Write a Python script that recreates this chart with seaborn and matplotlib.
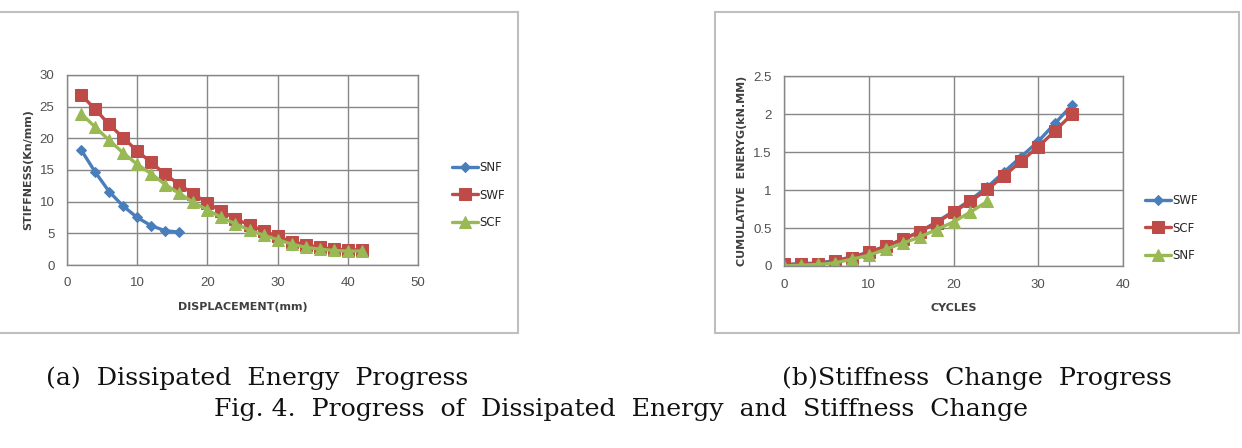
import pandas as pd
import matplotlib
matplotlib.use('Agg')
import matplotlib.pyplot as plt
import matplotlib.patches as mpatches
import seaborn as sns
import numpy as np

# ── Data ──────────────────────────────────────────────────────────────────────
# (a) stiffness vs displacement
disp_snf = [2, 4, 6, 8, 10, 12, 14, 16]
stiff_snf = [18.2, 14.7, 11.6, 9.3, 7.5, 6.2, 5.4, 5.2]
disp_long = [2, 4, 6, 8, 10, 12, 14, 16, 18, 20, 22, 24, 26, 28, 30, 32, 34, 36, 38, 40, 42]
stiff_swf = [26.9, 24.6, 22.2, 20.1, 18.0, 16.2, 14.3, 12.7, 11.2, 9.8, 8.5,
             7.3, 6.3, 5.4, 4.5, 3.7, 3.2, 2.8, 2.5, 2.4, 2.4]
stiff_scf = [23.9, 21.8, 19.7, 17.7, 15.9, 14.4, 12.7, 11.3, 9.9, 8.7, 7.5,
             6.5, 5.5, 4.7, 4.0, 3.3, 2.8, 2.5, 2.3, 2.2, 2.2]

# (b) cumulative energy vs cycles
cyc_long = [0, 2, 4, 6, 8, 10, 12, 14, 16, 18, 20, 22, 24, 26, 28, 30, 32, 34]
energy_swf = [0.02, 0.03, 0.04, 0.07, 0.12, 0.18, 0.26, 0.35, 0.45, 0.58, 0.72,
              0.87, 1.04, 1.24, 1.44, 1.64, 1.88, 2.12]
energy_scf = [0.02, 0.02, 0.03, 0.06, 0.11, 0.18, 0.26, 0.35, 0.45, 0.57, 0.71,
              0.85, 1.01, 1.19, 1.38, 1.57, 1.78, 2.00]
cyc_snf = [0, 2, 4, 6, 8, 10, 12, 14, 16, 18, 20, 22, 24]
energy_snf = [0.0, 0.01, 0.02, 0.04, 0.09, 0.14, 0.22, 0.30, 0.38, 0.48, 0.58, 0.71, 0.85]

# Excel-style series formats (1st, 2nd, 3rd series)
FMT = [('#4A7EBB', 'D', 5.5), ('#BE4B48', 's', 8), ('#98B954', '^', 8)]

sns.set_style('white')
plt.rcParams['font.family'] = ['Liberation Sans Narrow', 'DejaVu Sans']

W, H = 1242, 448
fig = plt.figure(figsize=(W / 100, H / 100), dpi=100)

# panel frames
for x0, x1 in [(-3, 518), (715, 1239)]:
    fig.patches.append(mpatches.Rectangle((x0 / W, 1 - 333 / H), (x1 - x0) / W, 321 / H,
                                          transform=fig.transFigure, fill=False,
                                          edgecolor='#BFBFBF', linewidth=1.5))

ax1 = fig.add_axes([67 / W, 1 - 265 / H, 351 / W, 190 / H])
ax2 = fig.add_axes([784 / W, 1 - 266 / H, 339 / W, 190 / H])


def draw(ax, x, y, name, k):
    color, marker, ms = FMT[k]
    sns.lineplot(x=x, y=y, ax=ax, color=color, marker=marker, markersize=ms,
                 markeredgecolor=color, linewidth=2.4, label=name)


draw(ax1, disp_snf, stiff_snf, 'SNF', 0)
draw(ax1, disp_long, stiff_swf, 'SWF', 1)
draw(ax1, disp_long, stiff_scf, 'SCF', 2)

draw(ax2, cyc_long, energy_swf, 'SWF', 0)
draw(ax2, cyc_long, energy_scf, 'SCF', 1)
draw(ax2, cyc_snf, energy_snf, 'SNF', 2)

lab = dict(fontsize=8, fontweight='bold', color='#404040')
ax1.set_xlim(0, 50)
ax1.set_ylim(0, 30)
ax1.set_xticks(range(0, 51, 10))
ax1.set_yticks(range(0, 31, 5))
ax1.set_xlabel('DISPLACEMENT(mm)', **lab)
ax1.set_ylabel('STIFFNESS(Kn/mm)', **lab)
ax1.xaxis.set_label_coords(0.5, (265 - 302) / 190)
ax1.yaxis.set_label_coords((33 - 67) / 351, 0.5)

ax2.set_xlim(0, 40)
ax2.set_ylim(0, 2.5)
ax2.set_xticks(range(0, 41, 10))
ax2.set_yticks([0, 0.5, 1, 1.5, 2, 2.5])
ax2.set_yticklabels(['0', '0.5', '1', '1.5', '2', '2.5'])
ax2.set_xlabel('CYCLES', **lab)
ax2.set_ylabel('CUMULATIVE  ENERYG(kN.MM)', **lab)
ax2.xaxis.set_label_coords(0.5, (266 - 303) / 190)
ax2.yaxis.set_label_coords((747 - 784) / 339, 0.5)

for ax in (ax1, ax2):
    ax.grid(True, color='#878787', linewidth=1)
    ax.set_axisbelow(True)
    for s in ax.spines.values():
        s.set_color('#878787')
        s.set_linewidth(1)
    ax.tick_params(length=0, labelsize=9.5, labelcolor='#505050', pad=9)
    for t in ax.get_xticklabels() + ax.get_yticklabels():
        t.set_family(['Liberation Sans', 'DejaVu Sans'])

leg = dict(bbox_transform=fig.transFigure, frameon=False, fontsize=8.5, loc='center left',
           handlelength=2.2, handletextpad=0.1, labelspacing=1.2, borderpad=0)
ax1.legend(bbox_to_anchor=(446 / W, 1 - 195 / H), **leg)
ax2.legend(bbox_to_anchor=(1139 / W, 1 - 228 / H), **leg)

# captions
cap = dict(family=['DejaVu Serif'], fontsize=18.2, color='#111111',
           va='center', transform=fig.transFigure)
fig.text(46 / W, 1 - 378 / H, '(a)  Dissipated  Energy  Progress', ha='left', **cap)
fig.text(1172 / W, 1 - 378 / H, '(b)Stiffness  Change  Progress', ha='right', **cap)
fig.text(621 / W, 1 - 409 / H, 'Fig. 4.  Progress  of  Dissipated  Energy  and  Stiffness  Change',
         ha='center', **cap)

plt.savefig('out.png', dpi=100)
plt.close()
